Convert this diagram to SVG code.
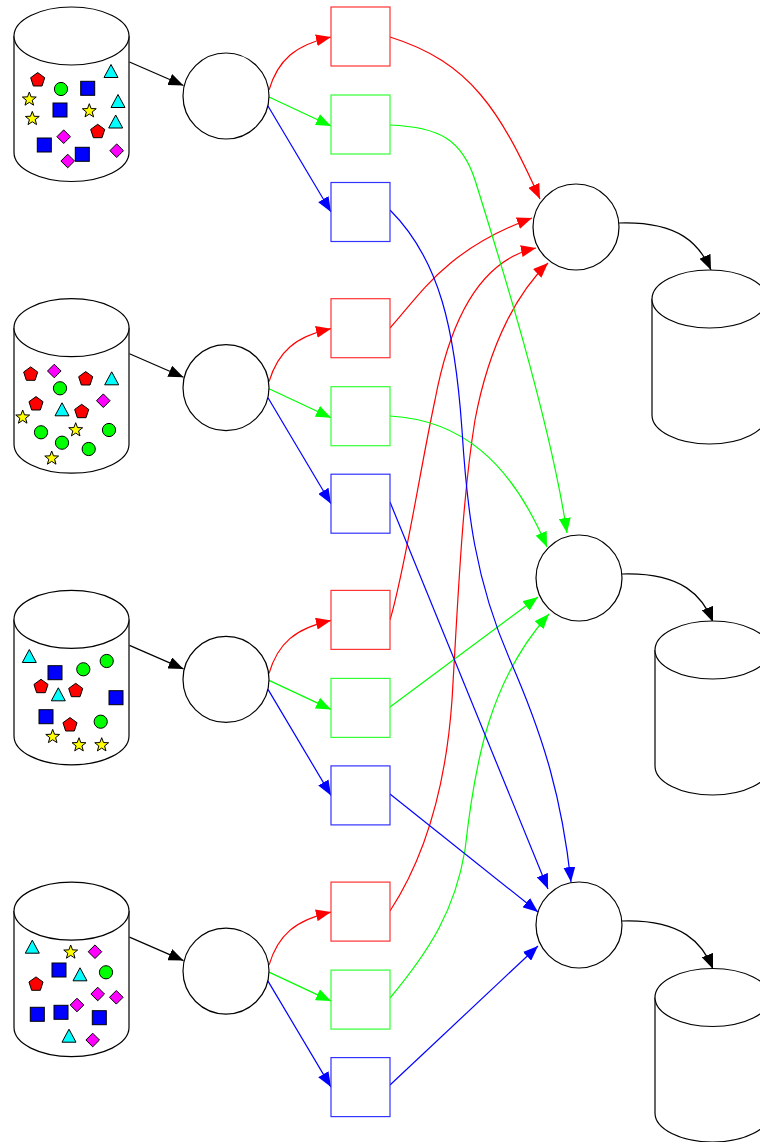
<svg xmlns="http://www.w3.org/2000/svg" xmlns:xlink="http://www.w3.org/1999/xlink" width="760" height="1142" viewBox="0 0 760 1142">
  <style>
    .cyl { fill: #fff; stroke: #000; stroke-width: 1.2; }
    .node { fill: #fff; stroke: #000; stroke-width: 1.2; }
    .box-r { fill: #fff; stroke: #f33; stroke-width: 1.2; }
    .box-g { fill: #fff; stroke: #3f3; stroke-width: 1.2; }
    .box-b { fill: #fff; stroke: #33f; stroke-width: 1.2; }
    .e { fill: none; stroke-width: 1.2; }
    .ek { stroke: #000; }
    .er { stroke: #f00; }
    .eg { stroke: #0f0; }
    .eb { stroke: #00f; }
    .tok { stroke: #000; stroke-width: 1; }
  </style>
  <defs>
    <marker id="ak" markerUnits="userSpaceOnUse" markerWidth="15" markerHeight="12" refX="15" refY="6" orient="auto"><path d="M0,0 L15,6 L0,12 Z" fill="#000"/></marker>
    <marker id="ar" markerUnits="userSpaceOnUse" markerWidth="15" markerHeight="12" refX="15" refY="6" orient="auto"><path d="M0,0 L15,6 L0,12 Z" fill="#f00"/></marker>
    <marker id="ag" markerUnits="userSpaceOnUse" markerWidth="15" markerHeight="12" refX="15" refY="6" orient="auto"><path d="M0,0 L15,6 L0,12 Z" fill="#0f0"/></marker>
    <marker id="ab" markerUnits="userSpaceOnUse" markerWidth="15" markerHeight="12" refX="15" refY="6" orient="auto"><path d="M0,0 L15,6 L0,12 Z" fill="#00f"/></marker>
    <!-- token shapes, centred on 0,0 -->
    <path id="pent" class="tok" fill="#f00" d="M0,-7.4 L7.04,-2.29 L4.35,5.99 L-4.35,5.99 L-7.04,-2.29 Z"/>
    <path id="star" class="tok" fill="#ff0" d="M0,-7.3 L1.8,-2.45 L6.94,-2.26 L2.9,0.94 L4.29,5.9 L0,3.05 L-4.29,5.9 L-2.9,0.94 L-6.94,-2.26 L-1.8,-2.45 Z"/>
    <path id="tri" class="tok" fill="#0ff" d="M0,-6.5 L7,6.5 L-7,6.5 Z"/>
    <path id="dia" class="tok" fill="#f0f" d="M0,-6.8 L6.8,0 L0,6.8 L-6.8,0 Z"/>
    <rect id="sq" class="tok" fill="#00f" x="-7" y="-7" width="14" height="14"/>
    <circle id="dot" class="tok" fill="#0f0" r="6.6"/>
  </defs>
  <rect width="760" height="1142" fill="#fff"/>

  <!-- connectors -->
  <g id="connectors">
    <!-- sources into splitters -->
    <path class="e ek" marker-end="url(#ak)" d="M129.5,62 L183.5,85.5"/>
    <path class="e ek" marker-end="url(#ak)" d="M129.5,353.7 L183.5,377.2"/>
    <path class="e ek" marker-end="url(#ak)" d="M129.5,645.4 L183.5,668.9"/>
    <path class="e ek" marker-end="url(#ak)" d="M129.5,937.1 L183.5,960.6"/>
    <!-- splitters into boxes -->
    <g transform="translate(0,0)">
      <path class="e er" marker-end="url(#ar)" d="M269,90 C278,60 295,45 331,37"/>
      <path class="e eg" marker-end="url(#ag)" d="M269,97 L331,126"/>
      <path class="e eb" marker-end="url(#ab)" d="M268,106 L331,212"/>
    </g>
    <g transform="translate(0,291.7)">
      <path class="e er" marker-end="url(#ar)" d="M269,90 C278,60 295,45 331,37"/>
      <path class="e eg" marker-end="url(#ag)" d="M269,97 L331,126"/>
      <path class="e eb" marker-end="url(#ab)" d="M268,106 L331,212"/>
    </g>
    <g transform="translate(0,583.4)">
      <path class="e er" marker-end="url(#ar)" d="M269,90 C278,60 295,45 331,37"/>
      <path class="e eg" marker-end="url(#ag)" d="M269,97 L331,126"/>
      <path class="e eb" marker-end="url(#ab)" d="M268,106 L331,212"/>
    </g>
    <g transform="translate(0,875.1)">
      <path class="e er" marker-end="url(#ar)" d="M269,90 C278,60 295,45 331,37"/>
      <path class="e eg" marker-end="url(#ag)" d="M269,97 L331,126"/>
      <path class="e eb" marker-end="url(#ab)" d="M268,106 L331,212"/>
    </g>
    <!-- red boxes into red merge -->
    <path class="e er" marker-end="url(#ar)" d="M390,37 C470,62 500,110 540,199"/>
    <path class="e er" marker-end="url(#ar)" d="M390,328 C420,295 445,250 532,218"/>
    <path class="e er" marker-end="url(#ar)" d="M390,620 C405,570 420,470 435,400 C450,320 480,260 536,248"/>
    <path class="e er" marker-end="url(#ar)" d="M390,911 C420,865 445,800 452,700 C458,600 462,500 475,420 C490,340 520,290 548,263"/>
    <!-- green boxes into green merge -->
    <path class="e eg" marker-end="url(#ag)" d="M390,125 C440,127 462,140 475,180 C500,260 550,420 567,533"/>
    <path class="e eg" marker-end="url(#ag)" d="M390,416 C460,420 510,460 547,547"/>
    <path class="e eg" marker-end="url(#ag)" d="M390,707 L538,597"/>
    <path class="e eg" marker-end="url(#ag)" d="M390,998 C430,950 455,910 465,850 C475,760 490,680 549,614"/>
    <!-- blue boxes into blue merge -->
    <path class="e eb" marker-end="url(#ab)" d="M390,210 C440,260 455,330 462,430 C467,510 475,580 510,660 C545,740 562,800 571,882"/>
    <path class="e eb" marker-end="url(#ab)" d="M390,502 L548,889"/>
    <path class="e eb" marker-end="url(#ab)" d="M390,794 L538,912"/>
    <path class="e eb" marker-end="url(#ab)" d="M390,1085 L538,946"/>
    <!-- merges into outputs -->
    <path class="e ek" marker-end="url(#ak)" d="M619,223 C680,221 700,245 711,270"/>
    <path class="e ek" marker-end="url(#ak)" d="M622,574 C683,572 703,597 713,622"/>
    <path class="e ek" marker-end="url(#ak)" d="M622,921 C683,919 703,944 713,969"/>
  </g>

  <!-- source stores -->
  <g id="src1">
    <path class="cyl" d="M14,36 L14,152.5 A57.5,29 0 0,0 129,152.5 L129,36"/>
    <ellipse class="cyl" cx="71.5" cy="36" rx="57.5" ry="29"/>
    <use href="#pent" x="37.7" y="80"/>
    <use href="#dot" x="61" y="89"/>
    <use href="#sq" x="87.7" y="88.3"/>
    <use href="#tri" x="111" y="71"/>
    <use href="#star" x="29.3" y="99.3"/>
    <use href="#sq" x="60" y="110"/>
    <use href="#star" x="89.3" y="111"/>
    <use href="#tri" x="118" y="101"/>
    <use href="#star" x="32.3" y="118.7"/>
    <use href="#tri" x="115.7" y="121.5"/>
    <use href="#pent" x="97.7" y="131.7"/>
    <use href="#dia" x="63.7" y="136.7"/>
    <use href="#sq" x="44.3" y="145"/>
    <use href="#dia" x="116.7" y="150.7"/>
    <use href="#sq" x="82.3" y="154.3"/>
    <use href="#dia" x="67.7" y="161"/>
  </g>
  <g id="src2">
    <path class="cyl" d="M14,327.7 L14,444.2 A57.5,29 0 0,0 129,444.2 L129,327.7"/>
    <ellipse class="cyl" cx="71.5" cy="327.7" rx="57.5" ry="29"/>
    <use href="#pent" x="30.7" y="374.3"/>
    <use href="#dia" x="54.3" y="371"/>
    <use href="#dot" x="60" y="388.3"/>
    <use href="#pent" x="85.7" y="379"/>
    <use href="#tri" x="111.7" y="378.3"/>
    <use href="#pent" x="36" y="404"/>
    <use href="#tri" x="62" y="409.3"/>
    <use href="#pent" x="81.7" y="411.7"/>
    <use href="#dia" x="103.3" y="400.7"/>
    <use href="#star" x="22.7" y="417.3"/>
    <use href="#dot" x="41" y="432.3"/>
    <use href="#star" x="75.7" y="430"/>
    <use href="#dot" x="109" y="430"/>
    <use href="#dot" x="62" y="442.7"/>
    <use href="#dot" x="88.7" y="449"/>
    <use href="#star" x="51.7" y="458.3"/>
  </g>
  <g id="src3">
    <path class="cyl" d="M14,619.4 L14,735.9 A57.5,29 0 0,0 129,735.9 L129,619.4"/>
    <ellipse class="cyl" cx="71.5" cy="619.4" rx="57.5" ry="29"/>
    <use href="#tri" x="29.3" y="656"/>
    <use href="#sq" x="55" y="672.7"/>
    <use href="#dot" x="83.3" y="669.3"/>
    <use href="#dot" x="106.7" y="661"/>
    <use href="#pent" x="41" y="686.7"/>
    <use href="#tri" x="58.3" y="694.3"/>
    <use href="#pent" x="75.7" y="690.7"/>
    <use href="#sq" x="116" y="697.7"/>
    <use href="#sq" x="46" y="716.7"/>
    <use href="#pent" x="70" y="725"/>
    <use href="#dot" x="100.7" y="721.7"/>
    <use href="#star" x="52.7" y="736.7"/>
    <use href="#star" x="79" y="745"/>
    <use href="#star" x="101.7" y="745"/>
  </g>
  <g id="src4">
    <path class="cyl" d="M14,911.1 L14,1027.6 A57.5,29 0 0,0 129,1027.6 L129,911.1"/>
    <ellipse class="cyl" cx="71.5" cy="911.1" rx="57.5" ry="29"/>
    <use href="#tri" x="32.3" y="946.7"/>
    <use href="#star" x="70.7" y="952.3"/>
    <use href="#dia" x="95" y="951.7"/>
    <use href="#sq" x="59" y="970"/>
    <use href="#tri" x="80" y="974.3"/>
    <use href="#dot" x="106" y="972.3"/>
    <use href="#pent" x="36" y="984.3"/>
    <use href="#dia" x="97.7" y="994"/>
    <use href="#dia" x="116.3" y="997.3"/>
    <use href="#dia" x="77" y="1005"/>
    <use href="#sq" x="37.3" y="1014.3"/>
    <use href="#sq" x="61" y="1012.3"/>
    <use href="#sq" x="99.3" y="1017.7"/>
    <use href="#tri" x="69" y="1035.7"/>
    <use href="#dia" x="92.7" y="1040"/>
  </g>

  <!-- splitters -->
  <g id="split1"><circle class="node" cx="226" cy="96" r="43"/></g>
  <g id="split2"><circle class="node" cx="226" cy="387.7" r="43"/></g>
  <g id="split3"><circle class="node" cx="226" cy="679.4" r="43"/></g>
  <g id="split4"><circle class="node" cx="226" cy="971.1" r="43"/></g>

  <!-- per-colour boxes -->
  <g id="red1"><rect class="box-r" x="331" y="7" width="59" height="59"/></g>
  <g id="green1"><rect class="box-g" x="331" y="95" width="59" height="59"/></g>
  <g id="blue1"><rect class="box-b" x="331" y="182.5" width="59" height="59"/></g>
  <g id="red2"><rect class="box-r" x="331" y="298.7" width="59" height="59"/></g>
  <g id="green2"><rect class="box-g" x="331" y="386.7" width="59" height="59"/></g>
  <g id="blue2"><rect class="box-b" x="331" y="474.2" width="59" height="59"/></g>
  <g id="red3"><rect class="box-r" x="331" y="590.4" width="59" height="59"/></g>
  <g id="green3"><rect class="box-g" x="331" y="678.4" width="59" height="59"/></g>
  <g id="blue3"><rect class="box-b" x="331" y="765.9" width="59" height="59"/></g>
  <g id="red4"><rect class="box-r" x="331" y="882.1" width="59" height="59"/></g>
  <g id="green4"><rect class="box-g" x="331" y="970.1" width="59" height="59"/></g>
  <g id="blue4"><rect class="box-b" x="331" y="1057.6" width="59" height="59"/></g>

  <!-- merges -->
  <g id="mergeRed"><circle class="node" cx="576" cy="227" r="43"/></g>
  <g id="mergeGreen"><circle class="node" cx="579" cy="578" r="43"/></g>
  <g id="mergeBlue"><circle class="node" cx="579" cy="925" r="43"/></g>

  <!-- output stores -->
  <g id="outRed">
    <path class="cyl" d="M652,299 L652,415 A57.5,29 0 0,0 767,415 L767,299"/>
    <ellipse class="cyl" cx="709.5" cy="299" rx="57.5" ry="29"/>
  </g>
  <g id="outGreen">
    <path class="cyl" d="M655,650 L655,766 A57.5,29 0 0,0 770,766 L770,650"/>
    <ellipse class="cyl" cx="712.5" cy="650" rx="57.5" ry="29"/>
  </g>
  <g id="outBlue">
    <path class="cyl" d="M655,997.5 L655,1113 A57.5,29 0 0,0 770,1113 L770,997.5"/>
    <ellipse class="cyl" cx="712.5" cy="997.5" rx="57.5" ry="29"/>
  </g>
</svg>
